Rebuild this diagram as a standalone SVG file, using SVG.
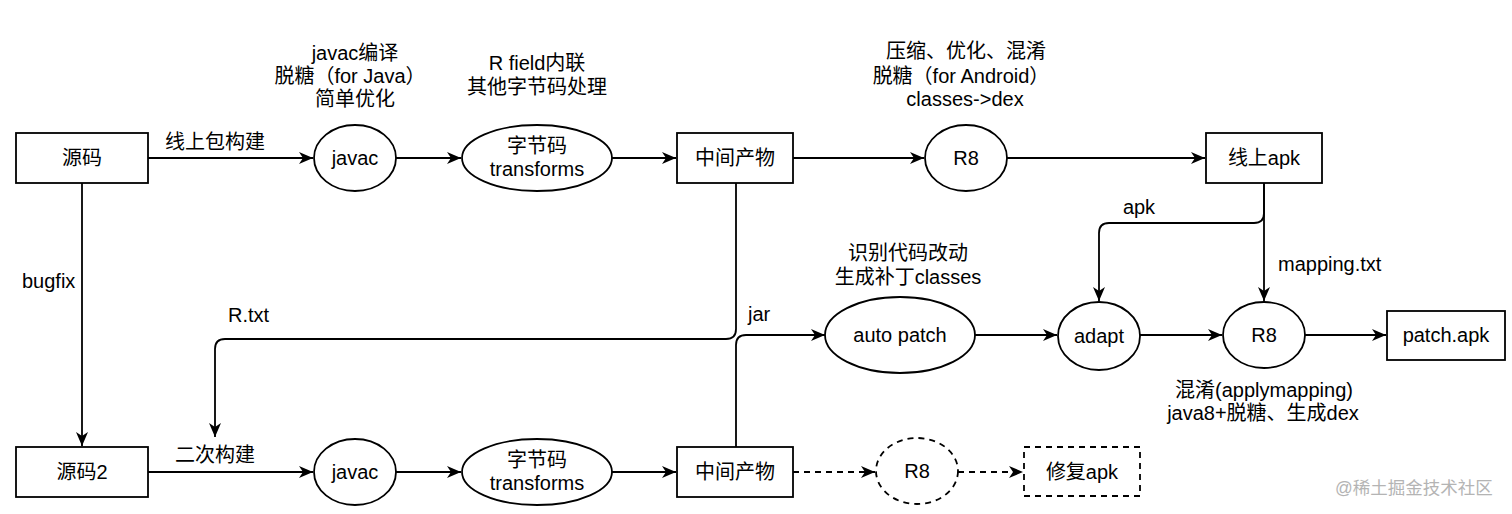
<svg xmlns="http://www.w3.org/2000/svg" width="1512" height="514" viewBox="0 0 1512 514">
<style>
text{font-family:"Liberation Sans","Noto Sans CJK SC",sans-serif;font-size:20px;fill:#000;}
.c{text-anchor:middle;}
.n{fill:#fff;stroke:#000;stroke-width:1.8;}
.d{fill:#fff;stroke:#000;stroke-width:1.8;stroke-dasharray:6 5;}
.e{fill:none;stroke:#000;stroke-width:1.8;marker-end:url(#ar);}
.ed{fill:none;stroke:#000;stroke-width:1.8;stroke-dasharray:6 5;marker-end:url(#ar);}
.wm{fill:#b4b4b4;font-size:17.5px;}
</style>
<defs>
<marker id="ar" markerUnits="userSpaceOnUse" markerWidth="16" markerHeight="14" refX="14" refY="7" orient="auto">
<path d="M0,1 L14,7 L0,13 L4,7 Z" fill="#000"/>
</marker>
</defs>
<rect width="1512" height="514" fill="#fff"/>
<g id="connectors">
<path class="e" d="M148,158 H313"/>
<path class="e" d="M396,158 H461"/>
<path class="e" d="M612,158 H676"/>
<path class="e" d="M793,158 H924"/>
<path class="e" d="M1007,158 H1205"/>
<path class="e" d="M82,183 V446"/>
<path class="e" d="M148,472 H313"/>
<path class="e" d="M396,472 H461"/>
<path class="e" d="M612,472 H676"/>
<path class="ed" d="M793,472 H875"/>
<path class="ed" d="M958,472 H1023"/>
<path class="e" d="M736,183 V329 Q736,339 726,339 H225 Q215,339 215,349 V437"/>
<path class="e" d="M736,447 V345 Q736,335 746,335 H825"/>
<path class="e" d="M1264,183 V213 Q1264,223 1254,223 H1109 Q1099,223 1099,233 V301"/>
<path class="e" d="M1264,183 V301"/>
<path class="e" d="M975,335 H1057"/>
<path class="e" d="M1140,335 H1222"/>
<path class="e" d="M1305,335 H1386"/>
</g>
<g id="src"><rect class="n" x="16" y="133" width="132" height="50"/><text class="c" x="82" y="165">源码</text></g>
<g id="javac1"><ellipse class="n" cx="355" cy="158" rx="41" ry="33"/><text class="c" x="355" y="165">javac</text></g>
<g id="bc1"><ellipse class="n" cx="537" cy="158" rx="75" ry="33"/><text class="c" x="537" y="153">字节码</text><text class="c" x="537" y="176">transforms</text></g>
<g id="mid1"><rect class="n" x="677" y="133" width="116" height="50"/><text class="c" x="735" y="165">中间产物</text></g>
<g id="r8a"><ellipse class="n" cx="966" cy="158" rx="41" ry="33"/><text class="c" x="966" y="165">R8</text></g>
<g id="apk"><rect class="n" x="1206" y="133" width="116" height="50"/><text class="c" x="1264" y="165">线上apk</text></g>
<g id="src2"><rect class="n" x="16" y="447" width="132" height="50"/><text class="c" x="82" y="479">源码2</text></g>
<g id="javac2"><ellipse class="n" cx="355" cy="472" rx="41" ry="33"/><text class="c" x="355" y="479">javac</text></g>
<g id="bc2"><ellipse class="n" cx="537" cy="472" rx="75" ry="33"/><text class="c" x="537" y="467">字节码</text><text class="c" x="537" y="490">transforms</text></g>
<g id="mid2"><rect class="n" x="677" y="447" width="116" height="50"/><text class="c" x="735" y="479">中间产物</text></g>
<g id="r8b"><ellipse class="d" cx="917" cy="471" rx="41" ry="33"/><text class="c" x="917" y="478">R8</text></g>
<g id="fixapk"><rect class="d" x="1024" y="447" width="116" height="49"/><text class="c" x="1082" y="479">修复apk</text></g>
<g id="autopatch"><ellipse class="n" cx="900" cy="335" rx="75" ry="38"/><text class="c" x="900" y="342">auto patch</text></g>
<g id="adapt"><ellipse class="n" cx="1099" cy="336" rx="41" ry="34"/><text class="c" x="1099" y="343">adapt</text></g>
<g id="r8c"><ellipse class="n" cx="1264" cy="335" rx="41" ry="33"/><text class="c" x="1264" y="342">R8</text></g>
<g id="patchapk"><rect class="n" x="1387" y="311" width="118" height="49"/><text class="c" x="1446" y="342">patch.apk</text></g>
<g id="labels">
<text class="c" x="355" y="60">javac编译</text>
<text class="c" x="350" y="83">脱糖（for Java）</text>
<text class="c" x="355" y="106">简单优化</text>
<text class="c" x="537" y="70">R field内联</text>
<text class="c" x="537" y="94">其他字节码处理</text>
<text class="c" x="966" y="58">压缩、优化、混淆</text>
<text class="c" x="961" y="83">脱糖（for Android）</text>
<text class="c" x="965" y="106">classes-&gt;dex</text>
<text x="165" y="149">线上包构建</text>
<text x="22" y="288">bugfix</text>
<text x="228" y="322">R.txt</text>
<text x="175" y="462">二次构建</text>
<text x="748" y="321">jar</text>
<text class="c" x="908" y="260">识别代码改动</text>
<text class="c" x="908" y="284">生成补丁classes</text>
<text class="c" x="1139" y="214">apk</text>
<text x="1278" y="271">mapping.txt</text>
<text class="c" x="1264" y="397">混淆(applymapping)</text>
<text class="c" x="1263" y="420">java8+脱糖、生成dex</text>
<text class="wm" x="1335" y="494">@稀土掘金技术社区</text>
</g>
</svg>
